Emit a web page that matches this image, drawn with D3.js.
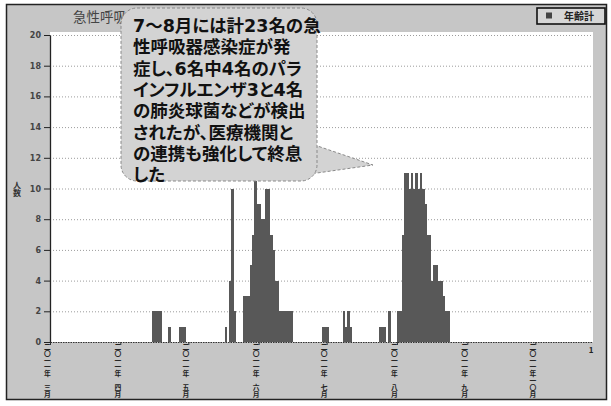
<!DOCTYPE html>
<html>
<head>
<meta charset="utf-8">
<script src="https://cdn.jsdelivr.net/npm/d3@7"></script>
<style>
html, body { margin: 0; padding: 0; background: #fff; }
svg { display: block; font-family: "Noto Sans CJK JP", "Noto Sans", sans-serif; }
</style>
</head>
<body>
<div id="chart"></div>
<script>
// onset dates and number of cases per day
const onsetDates = [
  "2011-04-15", "2011-04-16", "2011-04-17", "2011-04-18", "2011-04-22",
  "2011-04-27", "2011-04-28", "2011-04-29", "2011-05-17", "2011-05-19",
  "2011-05-20", "2011-05-21", "2011-05-25", "2011-05-26", "2011-05-27",
  "2011-05-28", "2011-05-29", "2011-05-30", "2011-05-31", "2011-06-01",
  "2011-06-02", "2011-06-03", "2011-06-04", "2011-06-05", "2011-06-06",
  "2011-06-07", "2011-06-08", "2011-06-09", "2011-06-10", "2011-06-11",
  "2011-06-12", "2011-06-13", "2011-06-14", "2011-06-15", "2011-06-29",
  "2011-06-30", "2011-07-01", "2011-07-08", "2011-07-09", "2011-07-10",
  "2011-07-11", "2011-07-24", "2011-07-25", "2011-07-26", "2011-07-28",
  "2011-08-01", "2011-08-02", "2011-08-03", "2011-08-04", "2011-08-05",
  "2011-08-06", "2011-08-07", "2011-08-08", "2011-08-09", "2011-08-10",
  "2011-08-11", "2011-08-12", "2011-08-13", "2011-08-14", "2011-08-15",
  "2011-08-16", "2011-08-17", "2011-08-18", "2011-08-19", "2011-08-20",
  "2011-08-21", "2011-08-22", "2011-08-23"
]
const cases = [
  2, 2, 2, 2, 1,
  1, 1, 1, 1, 4,
  10, 2, 3, 3, 3,
  5, 7, 11, 9, 9,
  8, 8, 10, 10, 7,
  6, 4, 4, 2, 2,
  2, 2, 2, 2, 1,
  1, 1, 2, 1, 2,
  1, 1, 1, 1, 2,
  2, 2, 7, 11, 11,
  10, 11, 10, 11, 10,
  11, 10, 9, 7, 7,
  4, 5, 5, 4, 4,
  3, 2, 2
]

const tickDates = ["2011-03-01", "2011-04-01", "2011-05-01", "2011-06-01",
  "2011-07-01", "2011-08-01", "2011-09-01", "2011-10-01"]
const tickLabels = ["二〇一一年　三月", "二〇一一年　四月", "二〇一一年　五月", "二〇一一年　六月",
  "二〇一一年　七月", "二〇一一年　八月", "二〇一一年　九月", "二〇一一年一〇月"]
const yTicks = [0, 2, 4, 6, 8, 10, 12, 14, 16, 18, 20]

const noteLines = [
  "7～8月には計23名の急",
  "性呼吸器感染症が発",
  "症し、6名中4名のパラ",
  "インフルエンザ3と4名",
  "の肺炎球菌などが検出",
  "されたが、医療機関と",
  "の連携も強化して終息",
  "した"
]

const width = 611
const height = 406
const plotLeft = 50, plotRight = 593, plotTop = 32, plotBottom = 342

const parse = d3.utcParse("%Y-%m-%d")

const svg = d3.select("#chart").append("svg")
    .attr("width", width).attr("height", height)

// outer frame, grey scanned background
svg.append("rect")
    .attr("x", 6.5).attr("y", 4.5).attr("width", 600).attr("height", 395)
    .attr("fill", "#c6c6c6").attr("stroke", "#222").attr("stroke-width", 1.5)

// white plotting area
svg.append("rect")
    .attr("x", plotLeft).attr("y", plotTop)
    .attr("width", plotRight - plotLeft).attr("height", plotBottom - plotTop)
    .attr("fill", "#fff")

const x = d3.scaleUtc()
    .domain([parse("2011-03-01"), parse("2011-10-26")])
    .range([plotLeft, 592])

const y = d3.scaleLinear()
    .domain([0, 20])
    .range([plotBottom, 35])

// dotted grid lines
svg.append("g")
    .attr("transform", `translate(${plotLeft},0)`)
    .call(d3.axisLeft(y).tickValues(yTicks.filter(v => v > 0))
        .tickSize(-(plotRight - plotLeft)).tickFormat(""))
    .call(g => g.select(".domain").remove())
    .selectAll("line")
    .attr("stroke", "#9c9c9c").attr("stroke-dasharray", "1,2")

// daily bars
const data = onsetDates.map((d, i) => ({ date: parse(d), n: cases[i] }))

svg.append("g")
    .attr("shape-rendering", "crispEdges")
    .selectAll("rect")
    .data(data).join("rect")
    .attr("x", d => x(d.date))
    .attr("width", d => x(d3.utcDay.offset(d.date, 1)) - x(d.date) + 0.4)
    .attr("y", d => y(d.n))
    .attr("height", d => y(0) - y(d.n))
    .attr("fill", "#585858")

// x axis with vertical month labels
const xAxis = svg.append("g")
    .attr("transform", `translate(0,${plotBottom})`)
    .call(d3.axisBottom(x).tickValues(tickDates.map(parse))
        .tickSize(3).tickSizeOuter(0)
        .tickFormat((d, i) => tickLabels[i]))
xAxis.select(".domain").attr("stroke", "#333").attr("stroke-dasharray", "1.5,1")
xAxis.selectAll(".tick line").attr("stroke", "#333")
xAxis.selectAll(".tick text")
    .attr("x", -3).attr("y", 1).attr("dy", null)
    .attr("text-anchor", "start")
    .style("writing-mode", "vertical-rl")
    .style("text-orientation", "upright")
    .attr("font-size", 6.8).attr("font-weight", "bold")
    .attr("font-family", "Noto Sans CJK JP")
    .attr("fill", "#222")

svg.append("text")
    .attr("x", 591).attr("y", 353)
    .attr("text-anchor", "middle")
    .attr("font-size", 8).attr("font-weight", "bold").attr("fill", "#222")
    .text("1")

// y axis
const yAxis = svg.append("g")
    .attr("transform", `translate(${plotLeft},0)`)
    .call(d3.axisLeft(y).tickValues(yTicks).tickSize(6).tickSizeOuter(0))
yAxis.select(".domain").attr("stroke", "#222").attr("stroke-width", 1.3)
yAxis.selectAll(".tick line").attr("stroke", "#222")
yAxis.selectAll(".tick text")
    .attr("x", -9)
    .attr("font-size", 8).attr("font-family", "DejaVu Sans").attr("font-weight", "bold")
    .attr("fill", "#444")

svg.append("text")
    .attr("x", 17).attr("y", 181)
    .style("writing-mode", "vertical-rl")
    .style("text-orientation", "upright")
    .attr("font-size", 8).attr("font-weight", "bold").attr("fill", "#333")
    .text("人数")

// chart title (the note covers most of it, as in the scan)
svg.append("text")
    .attr("x", 73).attr("y", 22)
    .attr("font-size", 13.5).attr("fill", "#444")
    .text("急性呼吸器感染症")

// legend
const legend = svg.append("g")
legend.append("rect")
    .attr("x", 537).attr("y", 8).attr("width", 68).attr("height", 16)
    .attr("fill", "#d6d6d6").attr("stroke", "#111").attr("stroke-width", 1.6)
legend.append("rect")
    .attr("x", 546).attr("y", 12.5).attr("width", 6).attr("height", 6)
    .attr("fill", "#444")
legend.append("text")
    .attr("x", 564).attr("y", 20)
    .attr("font-size", 10).attr("font-weight", "bold").attr("fill", "#222")
    .text("年齢計")

// speech bubble note
const note = svg.append("g")
note.append("polygon")
    .attr("points", "300,140 373,165 296,176")
    .attr("fill", "#d3d3d3").attr("stroke", "#8a8a8a").attr("stroke-dasharray", "3,2")
note.append("rect")
    .attr("x", 121).attr("y", 8).attr("width", 196).attr("height", 173).attr("rx", 16)
    .attr("fill", "#d3d3d3").attr("stroke", "#8a8a8a").attr("stroke-dasharray", "3,2")
note.append("text")
    .attr("font-size", 17.5).attr("font-weight", "bold").attr("fill", "#111")
    .attr("font-family", '"DejaVu Sans", "Noto Sans CJK JP", sans-serif')
    .style("font-feature-settings", '"palt"')
    .selectAll("tspan")
    .data(noteLines).join("tspan")
    .attr("x", 133)
    .attr("y", (d, i) => 32 + i * 21.3)
    .text(d => d)
</script>
</body>
</html>
